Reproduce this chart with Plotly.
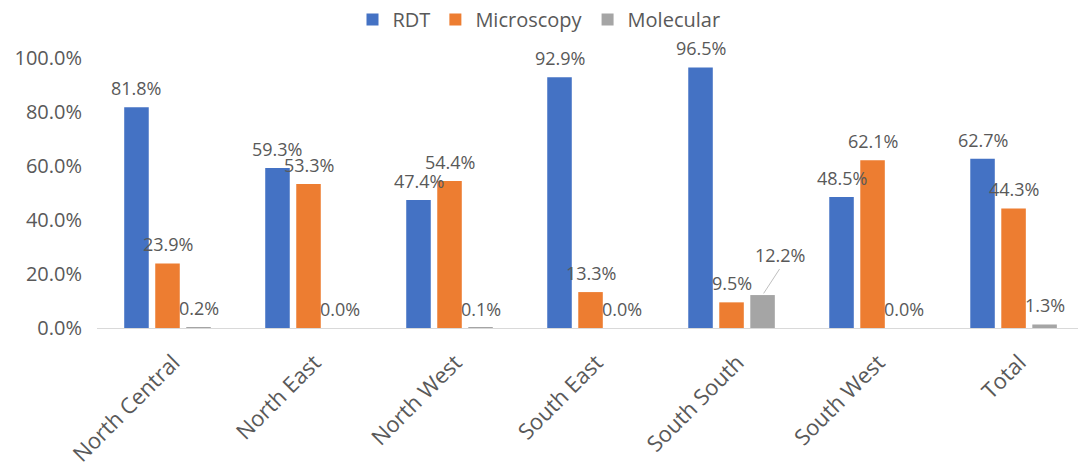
import plotly.graph_objects as go

regions = ["North Central", "North East", "North West", "South East",
           "South South", "South West", "Total"]
rdt = [81.8, 59.3, 47.4, 92.9, 96.5, 48.5, 62.7]
microscopy = [23.9, 53.3, 54.4, 13.3, 9.5, 62.1, 44.3]
molecular = [0.2, 0.0, 0.1, 0.0, 12.2, 0.0, 1.3]

series = [
    ("RDT", rdt, "#4472C4"),
    ("Microscopy", microscopy, "#ED7D31"),
    ("Molecular", molecular, "#A5A5A5"),
]
offsets = [-0.22, 0.0, 0.22]
bar_w = 0.174
text_color = "#595959"
font_family = "Open Sans, Noto Sans, sans-serif"

fig = go.Figure()
annotations = []
for (name, vals, color), off in zip(series, offsets):
    fig.add_trace(go.Bar(
        name=name, x=regions, y=vals,
        offset=off - bar_w / 2, width=bar_w,
        marker=dict(color=color, line=dict(width=0)),
        hoverinfo="x+y+name",
    ))
    for i, v in enumerate(vals):
        label = f"{v:.1f}%"
        if name == "Molecular" and regions[i] == "South South":
            # this label sits up and to the right, with a leader line
            annotations.append(dict(
                x=i + off, y=v, xref="x", yref="y", text=label,
                showarrow=True, arrowhead=0, arrowwidth=1,
                arrowcolor="#BFBFBF", ax=17, ay=-26, standoff=2,
                xanchor="center", yanchor="bottom",
                font=dict(size=18, color=text_color, family=font_family),
            ))
            continue
        annotations.append(dict(
            x=i + off, y=v, xref="x", yref="y", text=label,
            showarrow=False, yanchor="middle", yshift=19,
            font=dict(size=18, color=text_color, family=font_family),
        ))

fig.update_layout(
    width=1078, height=474,
    margin=dict(l=97, r=0, t=58, b=146),
    paper_bgcolor="white", plot_bgcolor="white",
    font=dict(family=font_family, color=text_color, size=20),
    barmode="group",
    showlegend=True,
    legend=dict(
        orientation="h", xref="container", yref="container",
        x=0.5, xanchor="center", y=1.0, yanchor="top",
        font=dict(size=20, color=text_color), itemwidth=30,
        traceorder="normal",
    ),
    xaxis=dict(
        range=[-0.5, 6.457], tickangle=-45,
        showline=True, linecolor="#D9D9D9", linewidth=1,
        showgrid=False, ticks="", tickfont=dict(size=22, color=text_color),
        ticklabelstandoff=12, ticklabelshift=6,
    ),
    yaxis=dict(
        range=[0, 100], tickvals=[0, 20, 40, 60, 80, 100],
        ticktext=[f"{t:.1f}%" for t in [0, 20, 40, 60, 80, 100]],
        showgrid=False, zeroline=False, showline=False, ticks="",
        tickfont=dict(size=20, color=text_color), ticklabelstandoff=14,
    ),
    annotations=annotations,
)

fig.write_html("out.html")
